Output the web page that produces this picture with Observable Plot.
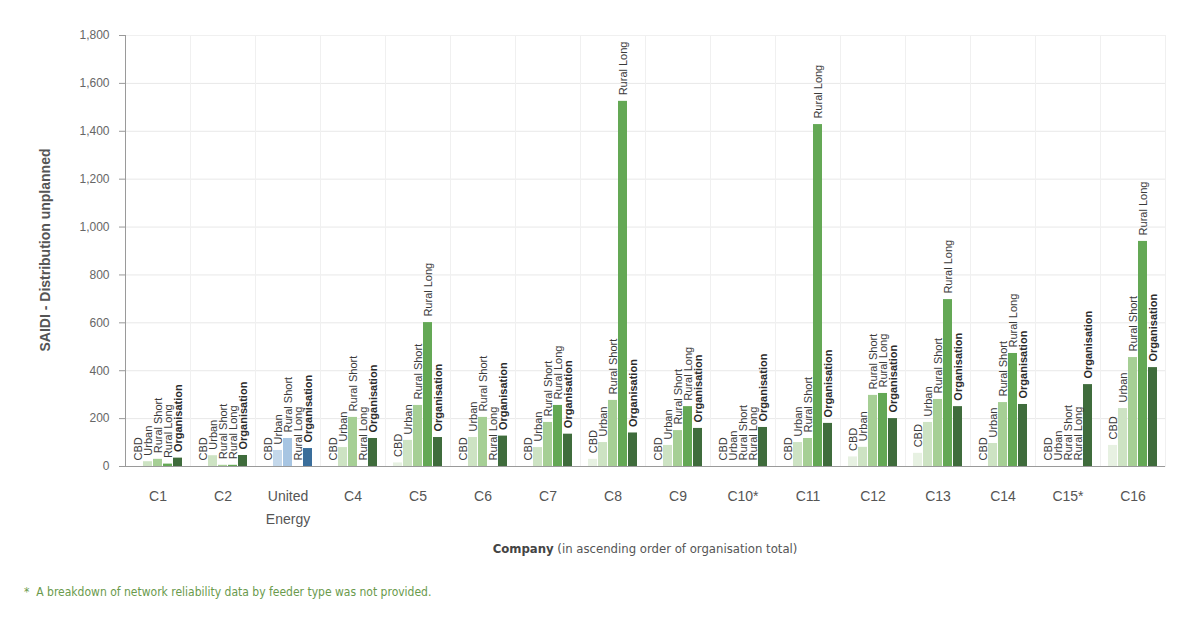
<!DOCTYPE html>
<html>
<head>
<meta charset="utf-8">
<script src="https://cdn.jsdelivr.net/npm/d3@7"></script>
<script src="https://cdn.jsdelivr.net/npm/@observablehq/plot@0.6"></script>
<style>
  body { margin: 0; background: #fff; }
  #wrap { position: relative; width: 1192px; height: 623px; background: #fff; font-family: "Liberation Sans", Arial, sans-serif; }
  #chart { position: absolute; left: 0; top: 0; }
  #ytitle { position: absolute; left: 45px; top: 250px; transform: translate(-50%, -50%) rotate(-90deg); white-space: nowrap; font-weight: bold; font-size: 14px; color: #555; }
  #xtitle { position: absolute; left: 645px; top: 541px; transform: translateX(-50%); white-space: nowrap; font-size: 13px; color: #555; font-family: "DejaVu Sans Condensed", "Liberation Sans", Arial, sans-serif; }
  #xtitle b { color: #444; }
  #note { position: absolute; left: 24px; top: 585px; white-space: nowrap; font-size: 12px; color: #6a9a4c; font-family: "DejaVu Sans Condensed", "Liberation Sans", Arial, sans-serif; }
</style>
</head>
<body>
<div id="wrap">
  <div id="chart"></div>
  <div id="ytitle">SAIDI - Distribution unplanned</div>
  <div id="xtitle"><b>Company</b> (in ascending order of organisation total)</div>
  <div id="note">*&nbsp;&nbsp;A breakdown of network reliability data by feeder type was not provided.</div>
</div>
<script>
// ---- data ----
const companies = ["C1", "C2", "United Energy", "C4", "C5", "C6", "C7", "C8", "C9", "C10*", "C11", "C12", "C13", "C14", "C15*", "C16"];
const types = ["CBD", "Urban", "Rural Short", "Rural Long", "Organisation"];
const cbd          = [0,  0,  0,  0,  15, 0,  0,  30,  0,   null, 0,    40,  55,  0,   null, 88];
const urban        = [20, 45, 67, 79, 109, 121, 79, 100, 88, null, 100, 80,  184, 96,  null, 242];
const ruralShort   = [30, 5,  117, 205, 255, 205, 184, 276, 150, null, 117, 297, 280, 267, null, 455];
const ruralLong    = [10, 5,  0,  0,  601, 0,  255, 1525, 250, null, 1428, 305, 697, 472, null, 940];
const organisation = [35, 46, 75, 117, 121, 127, 135, 140, 159, 163, 180, 200, 250, 259, 342, 413];
const yTicks = [0, 200, 400, 600, 800, 1000, 1200, 1400, 1600, 1800];

// ---- styles ----
const greens = {"CBD": "#e7f1e2", "Urban": "#cde3c3", "Rural Short": "#a6cf95", "Rural Long": "#64a855", "Organisation": "#3f6c3c"};
const blues  = {"CBD": "#dde8f4", "Urban": "#c4d8eb", "Rural Short": "#a7c5e2", "Rural Long": "#7eaad3", "Organisation": "#3a6e9b"};

const series = [cbd, urban, ruralShort, ruralLong, organisation];
const rows = [];
companies.forEach((c, i) => {
  types.forEach((t, j) => {
    rows.push({company: c, type: t, value: series[j][i]});
  });
});
const colorOf = d => (d.company === "United Energy" ? blues : greens)[d.type];
const fmt = d3.format(",");

const chart = Plot.plot({
  width: 1192,
  height: 540,
  marginLeft: 122,
  marginRight: 24,
  marginTop: 35,
  marginBottom: 74,
  style: {fontFamily: "'Liberation Sans', Arial, sans-serif", fontSize: "11px", color: "#555", background: "transparent"},
  fx: {domain: companies, padding: 0, label: null, axis: null},
  x: {domain: types, paddingInner: 0.06, paddingOuter: 0.7, axis: null},
  y: {domain: [0, 1800], axis: null},
  marks: [
    Plot.gridY(yTicks, {stroke: "#e8e8e8", strokeOpacity: 1}),
    Plot.frame({stroke: "#f0f0f0"}),
    Plot.barY(rows.filter(d => d.value != null), {fx: "company", x: "type", y: "value", fill: colorOf}),
    Plot.text(rows.filter(d => d.type !== "Organisation"), {
      fx: "company", x: "type", y: d => d.value ?? 0, text: "type",
      rotate: -90, textAnchor: "start", dy: -6, fill: "#3a3a3a", fontSize: 11
    }),
    Plot.text(rows.filter(d => d.type === "Organisation"), {
      fx: "company", x: "type", y: d => d.value ?? 0, text: "type",
      rotate: -90, textAnchor: "start", dy: -6, fill: "#2a2a2a", fontSize: 11, fontWeight: "bold"
    }),
    Plot.ruleY([0], {stroke: "#9a9a9a"}),
    Plot.frame({anchor: "left", stroke: "#9a9a9a", facetAnchor: "left"}),
    Plot.axisY(yTicks, {tickFormat: fmt, tickSize: 6, tickPadding: 10, fontSize: 12, fill: "#666", stroke: "#999", label: null}),
    Plot.axisFx({anchor: "bottom", tickSize: 0, tickPadding: 19, fontSize: 14, fill: "#555", lineHeight: 1.6, label: null,
      tickFormat: d => d.replace(" ", "\n")})
  ]
});
document.getElementById("chart").appendChild(chart);
</script>
</body>
</html>
